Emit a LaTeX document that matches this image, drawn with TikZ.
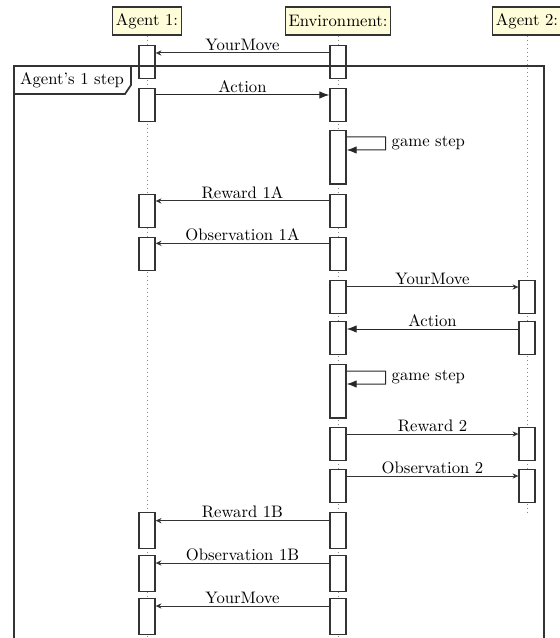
\documentclass[tikz,border=0pt]{standalone}
\usetikzlibrary{arrows.meta,positioning}

\begin{document}
\begin{tikzpicture}
    [x=0.6pt,y=-0.6pt,
     thread/.style={draw=black!80,fill=yellow!15,thick,inner sep=2pt,minimum height=16.8pt},
     life/.style={draw=black!45,dotted},
     act/.style={draw=black!80,fill=white,thick,anchor=north,inner sep=0pt,
                 minimum width=9.6pt,minimum height=19.8pt},
     tall/.style={minimum height=32pt},
     last/.style={minimum height=21.6pt},
     call/.style={draw=black!80,semithick,-{Stealth[length=3.5pt,width=3.2pt]}},
     push/.style={draw=black!85,semithick,-{Latex[length=6pt,width=4.5pt]}},
     lbl/.style={above,inner sep=1.2pt},
     frame/.style={draw=black!80,line width=1pt}]
    \useasboundingbox (0,0) rectangle (559,638);

    % threads and life lines
    \node[thread] (ag1) at (147,21) {Agent 1:};
    \node[thread] (env) at (338,21) {Environment:};
    \node[thread] (ag2) at (527,21) {Agent 2:};
    \draw[life] (ag1.south) -- (ag1.south |- 0,640);
    \draw[life] (env.south) -- (env.south |- 0,640);
    \draw[life] (ag2.south) -- (ag2.south |- 0,515);

    % first move, before the frame
    \node[act] (env 1) at (338,45) {};
    \node[act] (ag1 1) at (147,45) {};
    \draw[call] ([yshift=-4.8pt]env 1.north west) -- node[lbl] {YourMove} ([yshift=-4.8pt]ag1 1.north east);

    % frame of one step
    \draw[frame] (14,66) rectangle (544,660);
    \draw[frame,fill=white] (14,66) -- (131,66) -- (131,85) -- (125,94) -- (14,94) -- cycle;
    \node (step text) at (72,80) {Agent's 1 step};

    \node[act] (ag1 2) at (147,88) {};
    \node[act] (env 2) at (338,88) {};
    \draw[push] ([yshift=-4.2pt]ag1 2.north east) -- node[lbl] {Action} ([yshift=-4.2pt]env 2.north west);

    \node[act,tall] (env 3) at (338,130) {};
    \draw[push] ([yshift=-4.2pt]env 3.north east) -- ++(39,0)
      -- node[right] (gs1 text) {game step} ++(0,13) -- ([yshift=-12pt]env 3.north east);

    \node[act] (env 4) at (338,194) {};
    \node[act] (ag1 4) at (147,194) {};
    \draw[call] ([yshift=-4.2pt]env 4.north west) -- node[lbl] {Reward 1A} ([yshift=-4.2pt]ag1 4.north east);

    \node[act] (env 5) at (338,237) {};
    \node[act] (ag1 5) at (147,237) {};
    \draw[call] ([yshift=-3.8pt]env 5.north west) -- node[lbl] {Observation 1A} ([yshift=-3.8pt]ag1 5.north east);

    \node[act] (env 6) at (338,280) {};
    \node[act] (ag2 6) at (527,280) {};
    \draw[call] ([yshift=-4.2pt]env 6.north east) -- node[lbl] {YourMove} ([yshift=-4.2pt]ag2 6.north west);

    \node[act] (ag2 7) at (527,321) {};
    \node[act] (env 7) at (338,321) {};
    \draw[push] ([yshift=-4.8pt]ag2 7.north west) -- node[lbl] {Action} ([yshift=-4.8pt]env 7.north east);

    \node[act,tall] (env 8) at (338,364) {};
    \draw[push] ([yshift=-4.2pt]env 8.north east) -- ++(39,0)
      -- node[right] (gs2 text) {game step} ++(0,13) -- ([yshift=-12pt]env 8.north east);

    \node[act] (env 9) at (338,427) {};
    \node[act] (ag2 9) at (527,427) {};
    \draw[call] ([yshift=-4.2pt]env 9.north east) -- node[lbl] {Reward 2} ([yshift=-4.2pt]ag2 9.north west);

    \node[act] (env 10) at (338,469) {};
    \node[act] (ag2 10) at (527,469) {};
    \draw[call] ([yshift=-4.2pt]env 10.north east) -- node[lbl] {Observation 2} ([yshift=-4.2pt]ag2 10.north west);

    \node[act,last] (env 11) at (338,512) {};
    \node[act,last] (ag1 11) at (147,512) {};
    \draw[call] ([yshift=-5.2pt]env 11.north west) -- node[lbl] {Reward 1B} ([yshift=-5.2pt]ag1 11.north east);

    \node[act,last] (env 12) at (338,555) {};
    \node[act,last] (ag1 12) at (147,555) {};
    \draw[call] ([yshift=-4.8pt]env 12.north west) -- node[lbl] {Observation 1B} ([yshift=-4.8pt]ag1 12.north east);

    \node[act,last] (env 13) at (338,598) {};
    \node[act,last] (ag1 13) at (147,598) {};
    \draw[call] ([yshift=-4.8pt]env 13.north west) -- node[lbl] {YourMove} ([yshift=-4.8pt]ag1 13.north east);
\end{tikzpicture}
\end{document}
